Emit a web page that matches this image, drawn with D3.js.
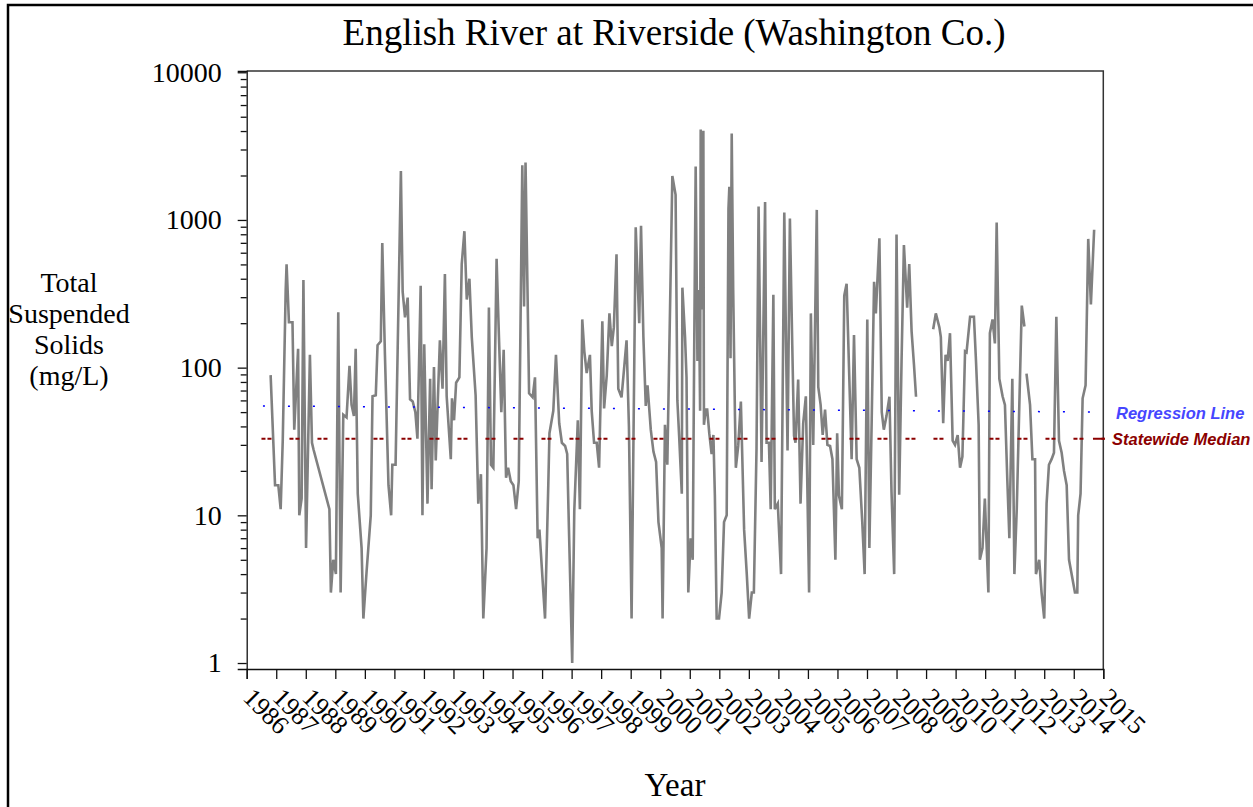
<!DOCTYPE html>
<html>
<head>
<meta charset="utf-8">
<script src="https://cdn.jsdelivr.net/npm/d3@7"></script>
<style>
	body { margin: 0; background: #fff; }
	svg { display: block; }
</style>
</head>
<body>
<div id="chart"></div>
<script>
// sample dates (decimal years) and total suspended solids (mg/L); null marks a gap in the record
const sampleDates = [
	1986.81, 1986.96, 1987.07, 1987.15, 1987.22, 1987.32, 1987.35, 1987.43, 1987.55, 1987.61,
	1987.74, 1987.78, 1987.86, 1987.92, 1988.01, 1988.14, 1988.21, 1988.26, 1988.80, 1988.85,
	1988.93, 1989.02, 1989.10, 1989.18, 1989.27, 1989.38, 1989.48, 1989.55, 1989.63, 1989.69,
	1989.76, 1989.89, 1989.95, 1990.06, 1990.20, 1990.26, 1990.37, 1990.43, 1990.54, 1990.59,
	1990.68, 1990.80, 1990.89, 1990.93, 1991.04, 1991.11, 1991.22, 1991.28, 1991.36, 1991.45,
	1991.53, 1991.62, 1991.71, 1991.78, 1991.89, 1991.95, 1992.01, 1992.12, 1992.21, 1992.26,
	1992.34, 1992.40, 1992.54, 1992.63, 1992.71, 1992.77, 1992.91, 1992.95, 1993.02, 1993.09,
	1993.20, 1993.28, 1993.37, 1993.45, 1993.54, 1993.62, 1993.75, 1993.84, 1993.93, 1994.01,
	1994.12, 1994.20, 1994.27, 1994.35, 1994.46, 1994.54, 1994.62, 1994.70, 1994.78, 1994.85,
	1994.94, 1995.03, 1995.12, 1995.21, 1995.33, 1995.39, 1995.44, 1995.56, 1995.68, 1995.76,
	1995.85, 1995.91, 1996.10, 1996.21, 1996.25, 1996.38, 1996.47, 1996.58, 1996.67, 1996.78,
	1996.85, 1996.91, 1997.02, 1997.09, 1997.21, 1997.28, 1997.36, 1997.43, 1997.51, 1997.62,
	1997.68, 1997.76, 1997.85, 1997.93, 1998.04, 1998.10, 1998.19, 1998.28, 1998.36, 1998.43,
	1998.52, 1998.58, 1998.69, 1998.75, 1998.86, 1998.94, 1999.03, 1999.17, 1999.29, 1999.35,
	1999.43, 1999.51, 1999.57, 1999.68, 1999.77, 1999.86, 1999.94, 2000.05, 2000.08, 2000.16,
	2000.24, 2000.41, 2000.52, 2000.58, 2000.64, 2000.73, 2000.75, 2000.84, 2000.89, 2000.95,
	2001.03, 2001.10, 2001.15, 2001.20, 2001.26, 2001.31, 2001.35, 2001.37, 2001.42, 2001.46,
	2001.48, 2001.54, 2001.59, 2001.66, 2001.74, 2001.80, 2001.85, 2001.91, 2001.99, 2002.08,
	2002.16, 2002.25, 2002.31, 2002.34, 2002.38, 2002.42, 2002.47, 2002.53, 2002.56, 2002.64,
	2002.73, 2002.84, 2002.93, 2003.01, 2003.10, 2003.17, 2003.26, 2003.33, 2003.43, 2003.55,
	2003.60, 2003.68, 2003.74, 2003.83, 2003.88, 2003.98, 2004.09, 2004.20, 2004.26, 2004.31,
	2004.39, 2004.47, 2004.53, 2004.58, 2004.67, 2004.75, 2004.84, 2004.93, 2005.04, 2005.10,
	2005.18, 2005.30, 2005.35, 2005.43, 2005.50, 2005.58, 2005.66, 2005.75, 2005.83, 2005.93,
	2005.99, 2006.05, 2006.15, 2006.23, 2006.31, 2006.48, 2006.56, 2006.65, 2006.74, 2006.84,
	2006.92, 2007.01, 2007.08, 2007.16, 2007.24, 2007.30, 2007.42, 2007.50, 2007.57, 2007.66,
	2007.76, 2007.83, 2007.92, 2008.00, 2008.09, 2008.17, 2008.25, 2008.36, 2008.43, 2008.51,
	2008.59, 2008.66, 2008.95, 2009.24, 2009.33, 2009.45, 2009.50, 2009.58, 2009.66, 2009.73,
	2009.81, 2009.90, 2009.98, 2010.07, 2010.15, 2010.23, 2010.32, 2010.37, 2010.49, 2010.62,
	2010.69, 2010.78, 2010.82, 2010.91, 2010.99, 2011.11, 2011.16, 2011.25, 2011.33, 2011.39,
	2011.48, 2011.59, 2011.67, 2011.75, 2011.82, 2011.92, 2011.99, 2012.07, 2012.24, 2012.33,
	2012.36, 2012.40, 2012.52, 2012.60, 2012.69, 2012.72, 2012.83, 2012.91, 2013.00, 2013.08,
	2013.16, 2013.25, 2013.33, 2013.41, 2013.50, 2013.59, 2013.67, 2013.76, 2013.84, 2014.04,
	2014.12, 2014.15, 2014.23, 2014.30, 2014.40, 2014.49, 2014.58, 2014.69
];
const tss = [
	89, 16, 16, 11, 32, 336, 500, 203, 203, 38,
	134, 10, 13, 392, 6, 122, 31, 28, 11, 3,
	5, 4, 237, 3, 48, 46, 103, 56, 47, 134,
	14, 6, 2, 4.2, 10, 64, 65, 142, 151, 697,
	122, 16, 10, 22, 22, 129, 2143, 327, 219, 298,
	61, 59, 50, 33, 358, 10, 144, 12, 84, 15,
	101, 23.5, 153, 72, 431, 64, 24, 62, 44, 79,
	86, 502, 839, 289, 400, 161, 65, 12, 19, 2,
	6, 255, 22, 21, 545, 161, 50, 132, 18, 21,
	17, 16, 11, 17, 2350, 259, 2450, 67, 63, 86,
	7, 8, 2, 16, 36, 51, 122, 42, 31, 29.5,
	26, 8, 1, 10.7, 44, 11, 212, 129, 92, 122,
	51, 31, 31, 21, 206, 53, 89, 233, 140, 188,
	586, 72, 63, 86, 153, 40, 2, 891, 200, 914,
	161, 55, 76, 38, 27, 23, 9, 6, 2, 41,
	22, 1986, 1479, 60, 34.5, 14, 348, 161, 86, 3,
	7, 5, 134, 2305, 111, 336, 51, 4090, 248, 4020,
	41, 52, 52, 36, 26, 35, 13.6, 2, 2, 3,
	9, 10, 1191, 1675, 116, 3845, 336, 47, 21, 29.5,
	59, 8, 4, 2, 3, 3, 28.5, 1231, 23, 1325,
	31, 31, 11, 312, 11, 12, 4, 1123, 142, 27.5,
	1021, 142, 34.5, 31, 83, 12, 42, 64, 3, 233,
	30, 1170, 74, 56, 35, 52, 30, 29.5, 24, 5,
	36, 13.6, 11, 307, 370, 24, 166, 24, 21, 9,
	4, 212, 6, 45, 381, 233, 752, 50, 38, 47,
	63.5, 14.4, 4, 798, 13.8, 111, 676, 255, 502, 176,
	105, 63.5, null, 182, 233, 188, 161, 42, 122, 111,
	171, 32, 30, 35, 21, 25, 129, 127, 221, 221,
	111, 41, 5, 6, 13, 3, 171, 212, 146, 961,
	84, 64, 56, 17.5, 7, 84, 4, 11, 263, 190,
	null, 91, 56, 24, 24, 4, 5, 3, 2, 12,
	22, 24, 26.5, 221, 32, 26.5, 20, 16, 5, 3,
	3, 10, 14, 62, 76, 744, 268, 859
];

const yearTicks = [
	1986, 1987, 1988, 1989, 1990, 1991, 1992, 1993, 1994, 1995,
	1996, 1997, 1998, 1999, 2000, 2001, 2002, 2003, 2004, 2005,
	2006, 2007, 2008, 2009, 2010, 2011, 2012, 2013, 2014, 2015
];
const majorTicks = [1, 10, 100, 1000, 10000];
const minorTicks = [2, 3, 4, 5, 6, 7, 8, 9, 20, 30, 40, 50, 60, 70, 80, 90,
	200, 300, 400, 500, 600, 700, 800, 900, 2000, 3000, 4000, 5000, 6000, 7000, 8000, 9000];

// reference lines
const regressionYears = [1986.55, 2015.05];
const regressionValues = [55, 50];
const medianYears = [1986.5, 2015.05];
const medianValue = 33;

const titleText = "English River at Riverside (Washington Co.)";
const yTitleLines = ["Total", "Suspended", "Solids", "(mg/L)"];
const xTitleText = "Year";

const width = 1253, height = 807;
const serif = "'Liberation Serif', 'Times New Roman', serif";
const sans = "'Liberation Sans', Arial, sans-serif";

const svg = d3.select("#chart")
	.append("svg")
	.attr("width", width)
	.attr("height", height);

// outer frame
svg.append("rect")
	.attr("x", 8).attr("y", 5)
	.attr("width", 1400).attr("height", 900)
	.style("fill", "none")
	.style("stroke", "#000")
	.style("stroke-width", 2.5);

const x = d3.scaleLinear().domain([1986, 2015]).range([246.7, 1103.3]);
const y = d3.scaleLog().domain([0.911, 10200]).range([669, 71]);

// plot frame (top and right)
svg.append("path")
	.attr("d", "M" + x(1986) + "," + y.range()[1] + "H" + x(2015) + "V" + y.range()[0])
	.style("fill", "none")
	.style("stroke", "#333")
	.style("stroke-width", 1.5);

// data line
const line = d3.line()
	.defined(d => d.v != null)
	.x(d => x(d.t))
	.y(d => y(d.v));

const data = sampleDates.map((t, i) => ({ t: t, v: tss[i] }));

svg.append("path")
	.datum(data)
	.attr("d", line)
	.style("fill", "none")
	.style("stroke", "#808080")
	.style("stroke-width", 2.6)
	.style("stroke-linejoin", "miter");

// regression line
svg.append("line")
	.attr("x1", x(regressionYears[0])).attr("x2", x(regressionYears[1]))
	.attr("y1", y(regressionValues[0])).attr("y2", y(regressionValues[1]))
	.style("stroke", "#0000ff")
	.style("stroke-width", 1.5)
	.style("stroke-dasharray", "2,23");

// statewide median line
svg.append("line")
	.attr("x1", x(medianYears[0])).attr("x2", x(medianYears[1]))
	.attr("y1", y(medianValue)).attr("y2", y(medianValue))
	.style("stroke", "#8b0000")
	.style("stroke-width", 2)
	.style("stroke-dasharray", "4,2,4,18");

svg.append("line")
	.attr("x1", x(2014.65)).attr("x2", x(2015.05))
	.attr("y1", y(medianValue)).attr("y2", y(medianValue))
	.style("stroke", "#8b0000")
	.style("stroke-width", 2);

svg.append("text")
	.attr("x", 1116).attr("y", y(regressionValues[1]) + 7)
	.style("font-family", sans)
	.style("font-size", "16.5px")
	.style("font-weight", "bold")
	.style("font-style", "italic")
	.style("fill", "#4646ff")
	.text("Regression Line");

svg.append("text")
	.attr("x", 1112).attr("y", y(medianValue) + 6)
	.style("font-family", sans)
	.style("font-size", "16.5px")
	.style("font-weight", "bold")
	.style("font-style", "italic")
	.style("fill", "#8b0000")
	.text("Statewide Median");

// y axis
const yAxis = d3.axisLeft(y)
	.tickValues(majorTicks)
	.tickSize(9)
	.tickPadding(16)
	.tickFormat(d3.format("d"));

const yAxisG = svg.append("g")
	.attr("class", "y axis")
	.attr("transform", "translate(" + x(1986) + ",0)")
	.call(yAxis);

svg.append("g")
	.attr("class", "y minor")
	.attr("transform", "translate(" + x(1986) + ",0)")
	.call(d3.axisLeft(y).tickValues(minorTicks).tickSize(6).tickFormat(""))
	.call(g => g.select(".domain").remove());

// x axis
const xAxisG = svg.append("g")
	.attr("class", "x axis")
	.attr("transform", "translate(0," + y.range()[0] + ")")
	.call(d3.axisBottom(x).tickValues(yearTicks).tickSize(10).tickFormat(""));

svg.selectAll(".axis .domain, .axis line, .minor line")
	.style("stroke", "#111")
	.style("stroke-width", 1.3);

yAxisG.selectAll("text")
	.style("font-family", serif)
	.style("font-size", "28px")
	.style("fill", "#000");

svg.append("g")
	.selectAll("text")
	.data(yearTicks)
	.enter().append("text")
	.attr("transform", d => "translate(" + (x(d) - 5) + "," + 699 + ") rotate(45)")
	.style("font-family", serif)
	.style("font-size", "26px")
	.text(d => d);

// titles
svg.append("text")
	.attr("x", 674).attr("y", 45)
	.attr("text-anchor", "middle")
	.style("font-family", serif)
	.style("font-size", "37px")
	.text(titleText);

svg.append("text")
	.attr("x", 675).attr("y", 796)
	.attr("text-anchor", "middle")
	.style("font-family", serif)
	.style("font-size", "33px")
	.text(xTitleText);

svg.append("g")
	.selectAll("text")
	.data(yTitleLines)
	.enter().append("text")
	.attr("x", 69)
	.attr("y", (d, i) => 292 + i * 31)
	.attr("text-anchor", "middle")
	.style("font-family", serif)
	.style("font-size", "28px")
	.text(d => d);
</script>
</body>
</html>
